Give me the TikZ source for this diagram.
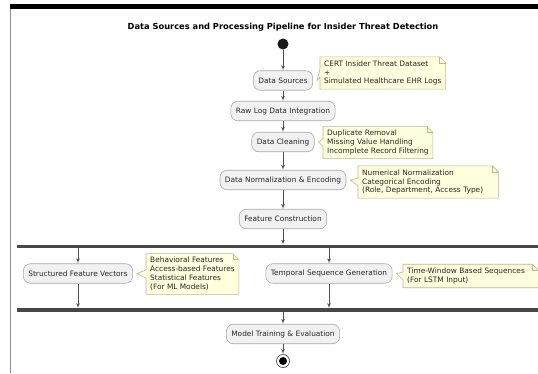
\documentclass[tikz,border=0pt]{standalone}
\usepackage{fontspec}
\setmainfont{DejaVu Sans}
\usepackage{tikz}
\usetikzlibrary{shapes,arrows}
\usetikzlibrary{positioning}
\usetikzlibrary{calc}
\definecolor{actfill}{HTML}{F1F1F1}
\definecolor{actdraw}{HTML}{A9A9A9}
\definecolor{notefill}{HTML}{FEFFDD}
\definecolor{notedraw}{HTML}{B9B98F}
\definecolor{linegray}{HTML}{505050}
\tikzstyle{act} = [draw=actdraw, fill=actfill, rounded corners=7pt,
minimum height=19.5pt, inner xsep=5pt, text=black!85]
\tikzstyle{note} = [fill=notefill, align=left, anchor=west, inner xsep=4pt,
inner ysep=3.5pt, text=black!85]
\tikzstyle{line} = [draw, -latex', color=linegray, line width=0.7pt]
\tikzstyle{bar} = [draw, color=black!72, line width=3.6pt]
%% note outline with folded corner and pointer to its activity
\newcommand{\notedeco}[2]{%
	\fill[white] ([xshift=-6pt]#1.north east) -- ([xshift=0.5pt,yshift=0.5pt]#1.north east) -- ([yshift=-6pt]#1.north east) -- cycle;
	\fill[notefill] ([yshift=-4pt]#1.west) -- ([xshift=4pt]#2.east) -- ([yshift=4pt]#1.west) -- cycle;
	\draw[notedraw, line width=0.6pt] (#1.north west) -- ([xshift=-6pt]#1.north east) -- ([yshift=-6pt]#1.north east) -- (#1.south east) -- (#1.south west) -- ([yshift=-4pt]#1.west) -- ([xshift=4pt]#2.east) -- ([yshift=4pt]#1.west) -- cycle;
	\draw[notedraw, line width=0.6pt] ([xshift=-6pt]#1.north east) |- ([yshift=-6pt]#1.north east);
}

\begin{document}
\begin{tikzpicture}[x=1pt, y=-1pt, font=\fontsize{7.4}{8.9}\selectfont,
	act/.append style={draw=actdraw, line width=0.6pt}]
	\useasboundingbox (0,0) rectangle (538,373);
	%% frame of the screenshot
	\fill[black] (10,4) rectangle (538,8.6);
	\draw[black!45, line width=1.4pt] (10.6,8.6) -- (10.6,373);
	\node[font=\bfseries\fontsize{8.3}{9}\selectfont] (title) at (283,27) {Data Sources and Processing Pipeline for Insider Threat Detection};
	%% Activities
	\node[circle, fill=black!90, minimum size=11pt, inner sep=0pt] (start) at (283,44) {};
	\node[act] (src) at (283,80.5) {Data Sources};
	\node[act] (raw) at (283,111) {Raw Log Data Integration};
	\node[act] (clean) at (283,142) {Data Cleaning};
	\node[act] (norm) at (283,180) {Data Normalization \& Encoding};
	\node[act] (feat) at (283,219) {Feature Construction};
	\node[act] (vec) at (78,273.5) {Structured Feature Vectors};
	\node[act] (seq) at (329,273.5) {Temporal Sequence Generation};
	\node[act] (train) at (283,334) {Model Training \& Evaluation};
	\node[circle, draw=black!70, line width=0.7pt, minimum size=13pt, inner sep=0pt] (stop) at (283,361) {};
	\node[circle, fill=black, minimum size=8pt, inner sep=0pt] (stopin) at (stop) {};
	%% Fork and join bars
	\coordinate (forkL) at (17,246.5);
	\coordinate (forkR) at (540,246.5);
	\coordinate (joinL) at (17,310);
	\coordinate (joinR) at (540,310);
	\path[bar] (forkL) -- (forkR);
	\path[bar] (joinL) -- (joinR);
	%% Notes
	\node[note] (n1) at (320,73) {CERT Insider Threat Dataset\\+\\Simulated Healthcare EHR Logs};
	\node[note] (n2) at (323,142.5) {Duplicate Removal\\Missing Value Handling\\Incomplete Record Filtering};
	\node[note, text width=132pt] (n3) at (358,182) {Numerical Normalization\\Categorical Encoding\\(Role, Department, Access Type)};
	\node[note] (n4) at (146,274) {Behavioral Features\\Access-based Features\\Statistical Features\\(For ML Models)};
	\node[note, text width=127pt] (n5) at (403,276) {Time-Window Based Sequences\\(For LSTM Input)};
	\notedeco{n1}{src}
	\notedeco{n2}{clean}
	\notedeco{n3}{norm}
	\notedeco{n4}{vec}
	\notedeco{n5}{seq}
	%% Flows
	\path[line] (start) -- (src);
	\path[line] (src) -- (raw);
	\path[line] (raw) -- (clean);
	\path[line] (clean) -- (norm);
	\path[line] (norm) -- (feat);
	\path[line, shorten >=1.8pt] (feat) -- (feat |- forkL);
	\path[line, shorten <=1.8pt] (vec |- forkL) -- (vec);
	\path[line, shorten <=1.8pt] (seq |- forkL) -- (seq);
	\path[line, shorten >=1.8pt] (vec) -- (vec |- joinL);
	\path[line, shorten >=1.8pt] (seq) -- (seq |- joinL);
	\path[line, shorten <=1.8pt] (train |- joinL) -- (train);
	\path[line] (train) -- (stop);
\end{tikzpicture}
\end{document}
